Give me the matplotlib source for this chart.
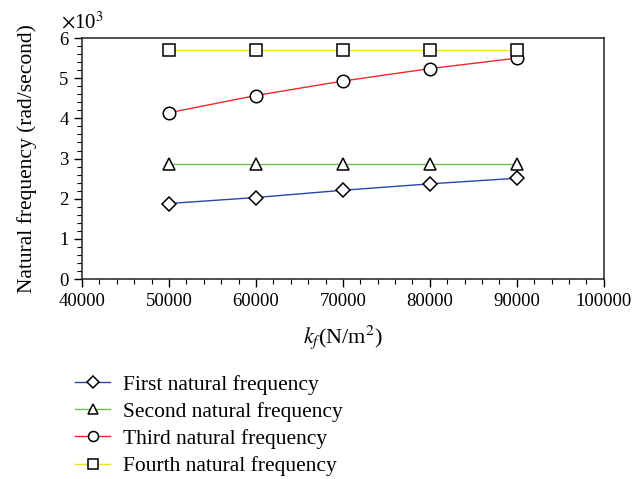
import matplotlib
matplotlib.use('Agg')
import matplotlib.pyplot as plt
from matplotlib.ticker import MultipleLocator

plt.rcParams['font.family'] = ['Liberation Serif', 'DejaVu Serif']
plt.rcParams['mathtext.fontset'] = 'stix'

# Данные (значения в тысячах рад/с)
kf = [50000, 60000, 70000, 80000, 90000]
first = [1.88, 2.03, 2.21, 2.37, 2.51]
second = [2.86, 2.86, 2.86, 2.86, 2.86]
third = [4.14, 4.57, 4.93, 5.24, 5.50]
fourth = [5.71, 5.71, 5.71, 5.71, 5.71]
labels = ['First natural frequency', 'Second natural frequency',
          'Third natural frequency', 'Fourth natural frequency']

fig = plt.figure(figsize=(6.35, 4.79), dpi=100)
ax = fig.add_axes([0.129, 0.4175, 0.822, 0.503])

styles = [
    (first, '#2a46a8', 'D', 7.5),
    (second, '#6cc24a', '^', 9),
    (third, '#f02828', 'o', 9),
    (fourth, '#ece030', 's', 9),
]
for (vals, col, mk, ms), lab in zip(styles, labels):
    ax.plot(kf, vals, color=col, lw=1.0, marker=mk, ms=ms,
            mfc='white', mec='black', mew=1.1, label=lab)

ax.set_xlim(40000, 100000)
ax.set_ylim(0, 6)
ax.xaxis.set_major_locator(MultipleLocator(10000))
ax.xaxis.set_minor_locator(MultipleLocator(2000))
ax.yaxis.set_major_locator(MultipleLocator(1))
ax.yaxis.set_minor_locator(MultipleLocator(0.2))
ax.tick_params(which='major', length=6, width=1, labelsize=13.5, color='black')
ax.tick_params(which='minor', length=3.5, width=0.8)
ax.tick_params(axis='x', pad=4)
for s in ax.spines.values():
    s.set_linewidth(1.1)
    s.set_color('#222222')

ax.set_xlabel(r'$k_f$(N/m$^2$)', fontsize=16, labelpad=10)
ax.set_ylabel('Natural frequency (rad/second)', fontsize=15.5, labelpad=16)
ax.text(0.0, 1.02, r'$\times$10$^3$', transform=ax.transAxes,
        fontsize=15, ha='center', va='bottom')

# легенда под графиком (маркеры чуть меньше)
leg_handles = []
for (vals, col, mk, ms), lab in zip(styles, labels):
    h, = ax.plot([], [], color=col, lw=1.0, marker=mk, ms=ms * 0.8,
                 mfc='white', mec='black', mew=1.1, label=lab)
    leg_handles.append(h)
fig.legend(handles=leg_handles, loc='upper left', bbox_to_anchor=(0.118, 0.218),
           frameon=False, fontsize=15.5, handlelength=1.65, handletextpad=0.6,
           labelspacing=0.33, borderaxespad=0, borderpad=0)

plt.savefig('out.png', dpi=100)
